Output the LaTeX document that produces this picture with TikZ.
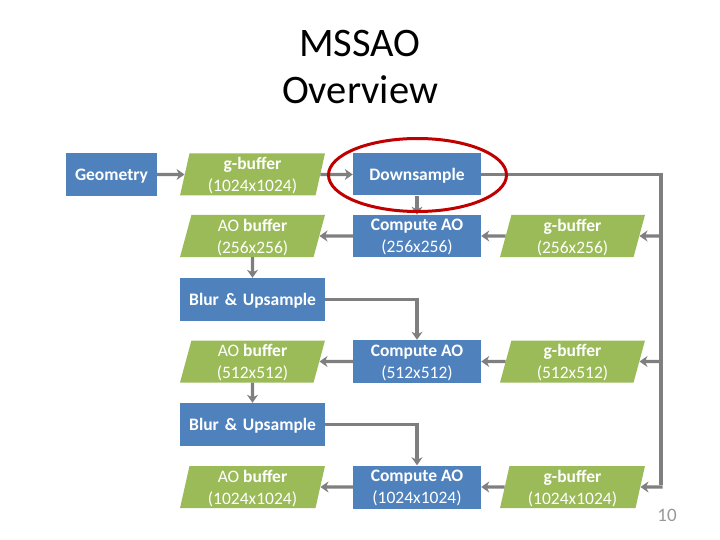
\documentclass[tikz,border=0pt]{standalone}
\usepackage{fontspec}
\setmainfont{Carlito}
\usetikzlibrary{shapes.geometric,arrows.meta,positioning}
\definecolor{boxblue}{HTML}{4F81BD}
\definecolor{boxgreen}{HTML}{9BBB59}
\definecolor{linegray}{HTML}{7F7F7F}
\definecolor{ringred}{HTML}{C00000}
\tikzset{
  boxfont/.style={font=\fontsize{17.5}{22}\selectfont},
  boldfont/.style={font=\bfseries\fontsize{17.5}{22}\selectfont},
  bluebox/.style={rectangle, fill=boxblue, text=white, boxfont, align=center, inner sep=0pt, text depth=0pt},
  greenbox/.style={trapezium, trapezium left angle=79, trapezium right angle=101, trapezium stretches=true, fill=boxgreen, text=white, boxfont, align=center, inner sep=0pt, text depth=0pt, minimum width=145pt, minimum height=42pt},
  conn/.style={draw=linegray, line width=3.4pt, -{Stealth[length=8pt,width=11pt,inset=2.5pt]}},
  plainline/.style={draw=linegray, line width=3.4pt}
}
\begin{document}
\begin{tikzpicture}[x=1pt,y=-1pt]
\useasboundingbox (0,0) rectangle (720,540);
% title
\node[font=\fontsize{40.5}{44}\selectfont, anchor=base] (t1) at (360,57) {MSSAO};
\node[font=\fontsize{40.5}{44}\selectfont, anchor=base] (t2) at (360,104) {Overview};
% row 1
\node[bluebox, minimum width=91pt, minimum height=43pt, boldfont] (geo) at (111.5,174.5) {Geometry};
\node[greenbox] (gb1) at (252.5,174.5) {\textbf{g-buffer}\\(1024x1024)};
\node[bluebox, minimum width=128pt, minimum height=42pt, boldfont] (down) at (417,174.5) {Downsample};
% row 2
\node[greenbox] (ao1) at (252.5,236) {AO \textbf{buffer}\\(256x256)};
\node[bluebox, minimum width=128pt, minimum height=42pt] (c1) at (417,236) {\textbf{Compute AO}\\(256x256)};
\node[greenbox] (g1) at (572.5,236) {\textbf{g-buffer}\\(256x256)};
% blur 1
\node[bluebox, minimum width=145pt, minimum height=43pt, anchor=west, boldfont, text width=145pt, align=left] (b1) at (180,299.5) {\hspace*{9pt}Blur \& Upsample};
% row 3
\node[greenbox] (ao2) at (252.5,361.5) {AO \textbf{buffer}\\(512x512)};
\node[bluebox, minimum width=128pt, minimum height=43pt] (c2) at (417,361.5) {\textbf{Compute AO}\\(512x512)};
\node[greenbox] (g2) at (572.5,361.5) {\textbf{g-buffer}\\(512x512)};
% blur 2
\node[bluebox, minimum width=145pt, minimum height=43pt, anchor=west, boldfont, text width=145pt, align=left] (b2) at (180,424.5) {\hspace*{9pt}Blur \& Upsample};
% row 4
\node[greenbox] (ao3) at (252.5,487) {AO \textbf{buffer}\\(1024x1024)};
\node[bluebox, minimum width=128pt, minimum height=43pt] (c3) at (417,487) {\textbf{Compute AO}\\(1024x1024)};
\node[greenbox] (g3) at (572.5,487) {\textbf{g-buffer}\\(1024x1024)};
% page number
\node[text=linegray!80, font=\fontsize{19}{20}\selectfont] (pn) at (667,515) {10};
% connectors
\coordinate (rtop) at (661,174.5);
\coordinate (rbot) at (661,487);
\draw[conn] (geo) -- (gb1);
\draw[conn] (gb1) -- (down);
\draw[plainline] (down.east) -- (rtop) -- ([yshift=1.7pt]rbot);
\draw[conn] ([xshift=1.7pt]rtop |- g1) -- (g1);
\draw[conn] ([xshift=1.7pt]rtop |- g2) -- (g2);
\draw[conn] ([xshift=1.7pt]rbot) -- (g3);
\draw[conn] (down) -- (c1);
\draw[conn] (g1) -- (c1);
\draw[conn] (c1) -- (ao1);
\draw[conn] (ao1) -- (ao1 |- b1.north);
\draw[conn] (b1.east) -| (c2.north);
\draw[conn] (g2) -- (c2);
\draw[conn] (c2) -- (ao2);
\draw[conn] (ao2) -- (ao2 |- b2.north);
\draw[conn] (b2.east) -| (c3.north);
\draw[conn] (g3) -- (c3);
\draw[conn] (c3) -- (ao3);
% red ring
\node[draw=ringred, line width=3pt, ellipse, minimum width=178pt, minimum height=73pt] (ring) at (417.5,175) {};
\end{tikzpicture}
\end{document}
